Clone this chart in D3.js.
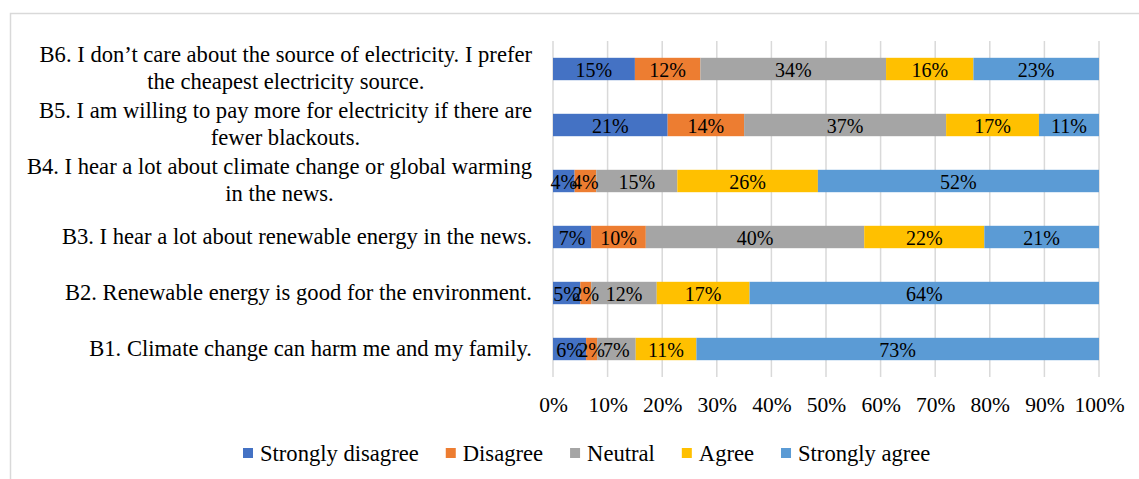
<!DOCTYPE html>
<html>
<head>
<meta charset="utf-8">
<script src="https://cdn.jsdelivr.net/npm/d3@7"></script>
<style>
  html, body { margin: 0; padding: 0; background: #fff; }
  svg { display: block; font-family: "Liberation Serif", "Times New Roman", serif; }
  svg text { font-family: "Liberation Serif", "Times New Roman", serif; }
</style>
</head>
<body>
<svg id="chart" width="1139" height="479"></svg>
<script>
// Survey statements, bottom to top as listed
const categories = ["B1", "B2", "B3", "B4", "B5", "B6"];
const categoryLines = [
  ["B1. Climate change can harm me and my family."],
  ["B2. Renewable energy is good for the environment."],
  ["B3. I hear a lot about renewable energy in the news."],
  ["B4. I hear a lot about climate change or global warming", "in the news."],
  ["B5. I am willing to pay more for electricity if there are", "fewer blackouts."],
  ["B6. I don\u2019t care about the source of electricity. I prefer", "the cheapest electricity source."]
];
const seriesNames = ["Strongly disagree", "Disagree", "Neutral", "Agree", "Strongly agree"];
const stronglyDisagree = [6, 5, 7, 4, 21, 15];
const disagree         = [2, 2, 10, 4, 14, 12];
const neutral          = [7, 12, 40, 15, 37, 34];
const agree            = [11, 17, 22, 26, 17, 16];
const stronglyAgree    = [73, 64, 21, 52, 11, 23];
const tickLabels = ["0%", "10%", "20%", "30%", "40%", "50%", "60%", "70%", "80%", "90%", "100%"];
const colors = ["#4472C4", "#ED7D31", "#A5A5A5", "#FFC000", "#5B9BD5"];

const seriesValues = [stronglyDisagree, disagree, neutral, agree, stronglyAgree];
const rows = categories.map((c, i) => {
  const r = { cat: c };
  seriesNames.forEach((s, k) => { r[s] = seriesValues[k][i]; });
  return r;
});

const svg = d3.select("#chart");
const labelFont = 22.6;
const tickFont = 21.5;
const valueFont = 20;
const serif = "Liberation Serif, Times New Roman, serif";

// outer chart frame
svg.append("rect")
  .attr("x", 10.5).attr("y", 13.5)
  .attr("width", 1200).attr("height", 600)
  .attr("fill", "none").attr("stroke", "#d9d9d9").attr("stroke-width", 1.5);

const plot = { left: 553, right: 1099, top: 41, bottom: 377 };

const x = d3.scaleLinear().domain([0, 1]).range([plot.left, plot.right]);
const y = d3.scaleBand()
  .domain(categories.slice().reverse())
  .range([plot.top, plot.bottom])
  .paddingInner(0.6).paddingOuter(0.3);

// gridlines
const ticks = d3.range(0, 1.0001, 0.1);
svg.append("g").selectAll("line").data(ticks).join("line")
  .attr("x1", d => x(d)).attr("x2", d => x(d))
  .attr("y1", plot.top).attr("y2", plot.bottom)
  .attr("stroke", "#d9d9d9").attr("stroke-width", 1.5);

// x axis labels
const xAxis = d3.axisBottom(x).tickValues(ticks).tickSize(0).tickPadding(0)
  .tickFormat((d, i) => tickLabels[i]);
const gx = svg.append("g").attr("transform", `translate(0,${plot.bottom})`).call(xAxis)
  .attr("font-family", serif);
gx.select(".domain").remove();
gx.selectAll("text")
  .attr("y", 35).attr("dy", null)
  .attr("font-size", tickFont)
  .attr("fill", "#000");

// stacked bars (shares of each row)
const stack = d3.stack().keys(seriesNames).offset(d3.stackOffsetExpand);
const layers = stack(rows);

const gl = svg.append("g").selectAll("g").data(layers).join("g")
  .attr("fill", (d, i) => colors[i]);
gl.selectAll("rect").data(d => d).join("rect")
  .attr("x", d => x(d[0]))
  .attr("y", d => y(d.data.cat))
  .attr("width", d => x(d[1]) - x(d[0]))
  .attr("height", y.bandwidth());

// data labels
const gt = svg.append("g").selectAll("g").data(layers).join("g");
gt.selectAll("text").data(d => d.map(p => ({ p, key: d.key }))).join("text")
  .attr("x", d => (x(d.p[0]) + x(d.p[1])) / 2)
  .attr("y", d => y(d.p.data.cat) + y.bandwidth() / 2 + 7.5)
  .attr("text-anchor", "middle")
  .attr("font-size", valueFont)
  .attr("fill", "#000")
  .text(d => d.p.data[d.key] + "%");

// category labels
const labelRight = 532;
const lineGap = 26.5;
categories.forEach((c, i) => {
  const lines = categoryLines[i];
  const cy = y(c) + y.bandwidth() / 2;
  const first = svg.append("text")
    .attr("font-size", labelFont).attr("fill", "#000")
    .attr("text-anchor", "end")
    .attr("x", labelRight)
    .attr("y", cy + 6.5 - (lines.length - 1) * lineGap / 2)
    .text(lines[0]);
  if (lines.length > 1) {
    const w = first.node().getComputedTextLength();
    svg.append("text")
      .attr("font-size", labelFont).attr("fill", "#000")
      .attr("text-anchor", "middle")
      .attr("x", labelRight - w / 2)
      .attr("y", cy + 6.5 + lineGap / 2)
      .text(lines[1]);
  }
});

// legend
const legend = svg.append("g");
let lx = 243;
const ly = 453;
seriesNames.forEach((s, i) => {
  legend.append("rect")
    .attr("x", lx).attr("y", ly - 5).attr("width", 10).attr("height", 10)
    .attr("fill", colors[i]);
  const t = legend.append("text")
    .attr("x", lx + 17).attr("y", ly + 7.5)
    .attr("font-size", labelFont).attr("fill", "#000")
    .text(s);
  lx += 17 + t.node().getComputedTextLength() + 27;
});
</script>
</body>
</html>
